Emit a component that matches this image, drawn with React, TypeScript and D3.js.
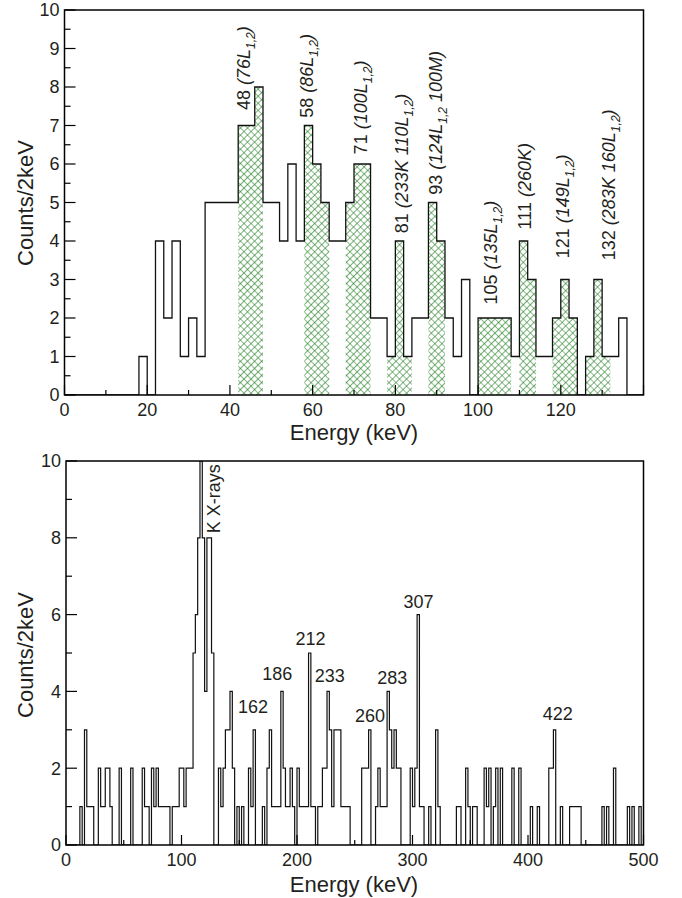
import React from "react";
import * as d3 from "d3";

// ---------- DATA ----------
const binWidth = 2; // keV per bin

// Top panel: counts per 2 keV bin, starting at 0 keV (0..140 keV)
const topCounts = [
  0, 0, 0, 0, 0, 0, 0, 0, 0, 1,
  0, 4, 2, 4, 1, 2, 1, 5, 5, 5,
  5, 7, 7, 8, 5, 5, 4, 6, 4, 7,
  6, 5, 4, 4, 5, 6, 6, 2, 2, 1,
  4, 1, 2, 2, 5, 4, 2, 1, 3, 0,
  2, 2, 2, 2, 1, 4, 3, 1, 1, 2,
  3, 2, 0, 1, 3, 1, 1, 2, 0, 0,
];

// Hatched (gated) energy ranges in the top panel, keV
const topHatchStart = [42, 58, 68, 78, 88, 100, 110, 118, 126];
const topHatchEnd = [48, 64, 74, 84, 92, 108, 114, 124, 132];

// Top panel peak labels (energy, count position, number, italic parts; "_" = subscript)
const topLabelEnergy = [43.4, 58.6, 71.6, 81.5, 89.8, 102.9, 111.3, 120.5, 131.6];
const topLabelCount = [7.4, 7.2, 6.25, 4.2, 5.2, 2.35, 4.3, 3.55, 3.5];
const topLabelNumber = ["48", "58", "71", "81", "93", "105", "111", "121", "132"];
const topLabelParts = [
  ["(76L", "_1,2", ")"],
  ["(86L", "_1,2", ")"],
  ["(100L", "_1,2", ")"],
  ["(233K 110L", "_1,2", ")"],
  ["(124L", "_1,2", " 100M)"],
  ["(135L", "_1,2", ")"],
  ["(260K)"],
  ["(149L", "_1,2", ")"],
  ["(283K 160L", "_1,2", ")"],
];

const topXTicks = [0, 20, 40, 60, 80, 100, 120];
const topYTicks = [0, 1, 2, 3, 4, 5, 6, 7, 8, 9, 10];

// Bottom panel: counts per 2 keV bin, starting at 0 keV (0..500 keV)
const bottomCounts0 = [0, 0, 0, 0, 0, 0, 1, 0, 3, 1, 1, 1, 0, 0, 2, 1, 1, 2, 2, 1, 0, 0, 0, 2, 0];
const bottomCounts50 = [0, 0, 0, 2, 0, 0, 0, 0, 2, 1, 1, 0, 2, 1, 2, 1, 1, 1, 1, 1, 0, 1, 1, 1, 2];
const bottomCounts100 = [2, 1, 2, 2, 2, 5, 6, 8, 10, 8, 4, 8, 8, 5, 0, 0, 2, 1, 2, 3, 3, 4, 2, 0, 1];
const bottomCounts150 = [0, 1, 0, 0, 2, 1, 3, 0, 0, 0, 1, 0, 2, 3, 1, 1, 1, 1, 4, 2, 1, 1, 2, 1, 0];
const bottomCounts200 = [2, 1, 1, 1, 1, 5, 1, 1, 0, 1, 1, 2, 2, 4, 3, 1, 3, 3, 3, 1, 1, 1, 1, 0, 0];
const bottomCounts250 = [0, 0, 0, 2, 2, 2, 3, 0, 0, 1, 2, 1, 1, 1, 4, 3, 2, 3, 2, 2, 0, 0, 0, 0, 2];
const bottomCounts300 = [1, 2, 6, 1, 1, 0, 0, 1, 0, 0, 3, 1, 0, 0, 0, 0, 0, 0, 0, 1, 1, 0, 0, 2, 1];
const bottomCounts350 = [0, 1, 1, 0, 0, 0, 2, 1, 2, 0, 1, 2, 0, 2, 0, 0, 0, 0, 2, 0, 0, 2, 0, 0, 0];
const bottomCounts400 = [0, 1, 0, 0, 1, 0, 0, 0, 0, 2, 2, 3, 0, 0, 1, 0, 0, 0, 1, 1, 1, 1, 1, 0, 0];
const bottomCounts450 = [0, 0, 0, 0, 0, 0, 0, 1, 0, 1, 0, 0, 2, 0, 0, 0, 0, 0, 1, 0, 1, 0, 0, 1, 0];
const bottomCounts = [
  ...bottomCounts0, ...bottomCounts50, ...bottomCounts100, ...bottomCounts150, ...bottomCounts200,
  ...bottomCounts250, ...bottomCounts300, ...bottomCounts350, ...bottomCounts400, ...bottomCounts450,
];

const bottomLabelEnergy = [162, 183, 211.7, 228.4, 263.3, 282.4, 305.2, 425.8];
const bottomLabelCount = [3.44, 4.3, 5.2, 4.25, 3.2, 4.2, 6.17, 3.25];
const bottomLabelText = ["162", "186", "212", "233", "260", "283", "307", "422"];
const kxEnergy = 128.1;
const kxCount = 8.12;
const kxText = "K X-rays";

const bottomXTicks = [0, 100, 200, 300, 400, 500];
const bottomYTicks = [0, 2, 4, 6, 8, 10];

// ---------- STYLE ----------
const FONT = "'Liberation Sans', Arial, Helvetica, sans-serif";
const TXT = "#231f20";
const GREEN = "#177a17";

type Box = { left: number; right: number; top: number; bottom: number };

function stepPath(counts: number[], x: d3.ScaleLinear<number, number>, y: d3.ScaleLinear<number, number>) {
  const pts: [number, number][] = [[0, 0]];
  counts.forEach((c, i) => pts.push([i * binWidth, c]));
  pts.push([counts.length * binWidth, 0]);
  return d3
    .line<[number, number]>()
    .x((d) => x(d[0]))
    .y((d) => y(d[1]))
    .curve(d3.curveStepAfter)(pts) as string;
}

function hatchPath(
  counts: number[],
  a: number,
  b: number,
  x: d3.ScaleLinear<number, number>,
  y: d3.ScaleLinear<number, number>
) {
  const i0 = Math.round(a / binWidth);
  const i1 = Math.round(b / binWidth);
  const pts: [number, number][] = [];
  for (let i = i0; i < i1; i++) pts.push([i * binWidth, counts[i]]);
  pts.push([b, counts[i1 - 1]]);
  return d3
    .area<[number, number]>()
    .x((d) => x(d[0]))
    .y0(y(0))
    .y1((d) => y(d[1]))
    .curve(d3.curveStepAfter)(pts) as string;
}

function Frame({
  box,
  x,
  y,
  xMinorStep,
  xMajorStep,
  xMax,
  yMinorStep,
  yMajorStep,
  xLabels,
  yLabels,
}: {
  box: Box;
  x: d3.ScaleLinear<number, number>;
  y: d3.ScaleLinear<number, number>;
  xMinorStep: number;
  xMajorStep: number;
  xMax: number;
  yMinorStep: number;
  yMajorStep: number;
  xLabels: number[];
  yLabels: number[];
}) {
  const xt = d3.range(0, xMax + 1e-9, xMinorStep);
  const yt = d3.range(0, 10 + 1e-9, yMinorStep);
  const isMajor = (v: number, s: number) => Math.abs(v / s - Math.round(v / s)) < 1e-6;
  return (
    <g>
      {xt.map((v) => (
        <line
          key={"xt" + v}
          x1={x(v)}
          x2={x(v)}
          y1={box.bottom}
          y2={box.bottom - (isMajor(v, xMajorStep) ? 10 : 5)}
          stroke="#000"
          strokeWidth={1.2}
        />
      ))}
      {yt.map((v) => (
        <line
          key={"yt" + v}
          x1={box.left}
          x2={box.left + (isMajor(v, yMajorStep) ? 11 : 6)}
          y1={y(v)}
          y2={y(v)}
          stroke="#000"
          strokeWidth={1.2}
        />
      ))}
      <rect
        x={box.left}
        y={box.top}
        width={box.right - box.left}
        height={box.bottom - box.top}
        fill="none"
        stroke="#000"
        strokeWidth={1.5}
      />
      {xLabels.map((v) => (
        <text key={"xl" + v} x={x(v)} y={box.bottom + 21} textAnchor="middle" fontSize={18} fill={TXT}>
          {v}
        </text>
      ))}
      {yLabels.map((v) => (
        <text key={"yl" + v} x={box.left - 5} y={y(v)} dy="0.36em" textAnchor="end" fontSize={18} fill={TXT}>
          {v}
        </text>
      ))}
    </g>
  );
}

export default function App() {
  const topBox: Box = { left: 64.5, right: 643.5, top: 10, bottom: 395 };
  const botBox: Box = { left: 66, right: 643.5, top: 461, bottom: 845 };

  const xT = d3.scaleLinear().domain([0, 140]).range([topBox.left, topBox.right]);
  const yT = d3.scaleLinear().domain([0, 10]).range([topBox.bottom, topBox.top]);
  const xB = d3.scaleLinear().domain([0, 500]).range([botBox.left, botBox.right]);
  const yB = d3.scaleLinear().domain([0, 10]).range([botBox.bottom, botBox.top]);

  return (
    <svg
      width={682}
      height={898}
      viewBox="0 0 682 898"
      style={{ position: "absolute", left: 0, top: 0, background: "#fff" }}
      fontFamily={FONT}
    >
      <defs>
        <pattern
          id="xhatch"
          patternUnits="userSpaceOnUse"
          width={5}
          height={5}
          patternTransform="rotate(45)"
        >
          <path d="M0,0 H5 M0,0 V5" stroke={GREEN} strokeWidth={1.2} fill="none" />
        </pattern>
        <clipPath id="clipTop">
          <rect x={topBox.left} y={topBox.top} width={topBox.right - topBox.left} height={topBox.bottom - topBox.top} />
        </clipPath>
        <clipPath id="clipBot">
          <rect x={botBox.left} y={botBox.top} width={botBox.right - botBox.left} height={botBox.bottom - botBox.top} />
        </clipPath>
      </defs>
      <rect x={0} y={0} width={682} height={898} fill="#fff" />

      {/* ---------- TOP PANEL ---------- */}
      <g clipPath="url(#clipTop)">
        {topHatchStart.map((a, i) => (
          <path key={"h" + i} d={hatchPath(topCounts, a, topHatchEnd[i], xT, yT)} fill="url(#xhatch)" stroke="none" />
        ))}
        <path d={stepPath(topCounts, xT, yT)} fill="none" stroke="#111" strokeWidth={1.3} />
      </g>
      <Frame
        box={topBox}
        x={xT}
        y={yT}
        xMinorStep={10}
        xMajorStep={20}
        xMax={140}
        yMinorStep={0.5}
        yMajorStep={1}
        xLabels={topXTicks}
        yLabels={topYTicks}
      />
      {topLabelEnergy.map((e, i) => {
        const px = xT(e);
        const py = yT(topLabelCount[i]);
        return (
          <text
            key={"tl" + i}
            transform={`translate(${px},${py}) rotate(-90)`}
            dy="0.36em"
            fontSize={18}
            fill={TXT}
            style={{ whiteSpace: "pre" }}
          >
            <tspan>{topLabelNumber[i] + " "}</tspan>
            {topLabelParts[i].map((p, j) =>
              p.startsWith("_") ? (
                <tspan key={j} fontStyle="italic" fontSize={12} dy={5}>
                  {p.slice(1)}
                </tspan>
              ) : (
                <tspan key={j} fontStyle="italic" dy={j > 0 && topLabelParts[i][j - 1].startsWith("_") ? -5 : 0}>
                  {p}
                </tspan>
              )
            )}
          </text>
        );
      })}
      <text x={354} y={440} textAnchor="middle" fontSize={22} fill={TXT}>
        Energy (keV)
      </text>
      <text transform={`translate(25,203) rotate(-90)`} dy="0.36em" textAnchor="middle" fontSize={22} fill={TXT}>
        Counts/2keV
      </text>

      {/* ---------- BOTTOM PANEL ---------- */}
      <g clipPath="url(#clipBot)">
        <path d={stepPath(bottomCounts, xB, yB)} fill="none" stroke="#111" strokeWidth={1.2} />
      </g>
      <Frame
        box={botBox}
        x={xB}
        y={yB}
        xMinorStep={50}
        xMajorStep={100}
        xMax={500}
        yMinorStep={1}
        yMajorStep={2}
        xLabels={bottomXTicks}
        yLabels={bottomYTicks}
      />
      {bottomLabelEnergy.map((e, i) => (
        <text key={"bl" + i} x={xB(e)} y={yB(bottomLabelCount[i])} textAnchor="middle" fontSize={18} fill={TXT}>
          {bottomLabelText[i]}
        </text>
      ))}
      <text
        transform={`translate(${xB(kxEnergy)},${yB(kxCount)}) rotate(-90)`}
        dy="0.36em"
        fontSize={18}
        fill={TXT}
      >
        {kxText}
      </text>
      <text x={354} y={892} textAnchor="middle" fontSize={22} fill={TXT}>
        Energy (keV)
      </text>
      <text transform={`translate(25,655) rotate(-90)`} dy="0.36em" textAnchor="middle" fontSize={22} fill={TXT}>
        Counts/2keV
      </text>
    </svg>
  );
}
